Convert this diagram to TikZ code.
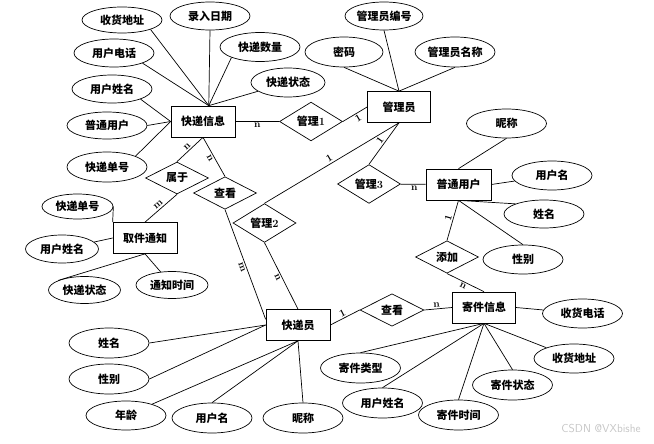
\documentclass[tikz,border=0pt]{standalone}
\usepackage{fontspec}
\newfontfamily\cjk{Noto Sans CJK SC}
\usetikzlibrary{shapes.geometric}

\tikzset{
  attr/.style={ellipse, draw, minimum width=80pt, minimum height=29pt, inner sep=0pt,
    font=\cjk\bfseries\fontsize{11}{13}\selectfont},
  ent/.style={rectangle, draw, minimum width=64pt, minimum height=31pt, inner sep=0pt,
    font=\cjk\bfseries\fontsize{11}{13}\selectfont},
  rel/.style={diamond, draw, minimum width=63pt, minimum height=30pt, inner sep=0pt,
    font=\cjk\bfseries\fontsize{11}{13}\selectfont},
  card/.style={font=\bfseries\fontsize{10}{10}\selectfont, inner sep=1.5pt},
}

\begin{document}
\begin{tikzpicture}[x=1pt, y=-1pt, line width=0.7pt]
  \useasboundingbox (0,0) rectangle (654,444);

  % kuaidi xinxi
  \node[ent] (kdxx) at (203,121.5) {快递信息};
  \node[attr, minimum height=26pt] (shdz) at (122,20) {收货地址};
  \node[attr, minimum height=28pt] (lrrq) at (210,16) {录入日期};
  \node[attr] (kdsl) at (260,47) {快递数量};
  \node[attr, minimum width=74pt] (kdzt) at (288,82.5) {快递状态};
  \node[attr, minimum height=28pt] (yhdh) at (114,53) {用户电话};
  \node[attr, minimum height=28pt] (yhxm) at (112,89) {用户姓名};
  \node[attr, minimum height=27pt] (ptyhA) at (107,125.5) {普通用户};
  \node[attr, minimum height=30pt] (kddh) at (107,167) {快递单号};
  \draw (shdz.south east) -- (kdxx.70);
  \draw (lrrq.south) -- (kdxx.70);
  \draw (kdsl.south west) -- (kdxx.70);
  \draw (kdzt) -- (kdxx.70);
  \draw (yhdh.south east) -- (kdxx.70);
  \draw (yhxm.south east) -- (kdxx.west);
  \draw (ptyhA.east) -- (kdxx.west);
  \draw (kddh.north east) -- (kdxx.west);

  % relations round kuaidi xinxi
  \node[rel] (gl1) at (311,121.5) {管理{\rmfamily 1}};
  \node[rel] (sy) at (177,178) {属于};
  \node[rel] (ck1) at (225,193) {查看};
  \draw (kdxx) -- node[card, below] {n} (gl1);
  \draw (kdxx.south) -- node[card, sloped, above, pos=.5] {n} (sy.north);
  \draw (kdxx.south) -- node[card, sloped, below, pos=.48] {n} (ck1.north);

  % qujian tongzhi
  \node[ent] (qjtz) at (145,238) {取件通知};
  \node[attr, minimum width=71pt, minimum height=25pt] (kddh2) at (77.5,206.5) {快递单号};
  \node[attr, minimum width=73pt, minimum height=28pt] (yhxm2) at (62,249) {用户姓名};
  \node[attr, minimum width=72pt, minimum height=27pt] (kdzt2) at (84.5,290) {快递状态};
  \node[attr, minimum width=72pt, minimum height=27pt] (tzsj) at (172,285) {通知时间};
  \draw (sy.south) -- node[card, sloped, above, pos=.5] {m} (qjtz.north);
  \draw (kddh2.east) -- (qjtz.north west);
  \draw (qjtz.west) -- (yhxm2);
  \draw (qjtz.south) -- (kdzt2.160);
  \draw (qjtz.south) -- (tzsj);

  % guanliyuan
  \node[ent, minimum width=63pt] (gly) at (399,107) {管理员};
  \node[attr, minimum width=78pt, minimum height=28pt] (glybh) at (384,16) {管理员编号};
  \node[attr, minimum width=78pt, minimum height=30pt] (mm) at (344,52) {密码};
  \node[attr, minimum height=30pt] (glymc) at (455,52) {管理员名称};
  \draw (glybh.south) -- (gly.north);
  \draw (mm.south) -- (gly.north);
  \draw (glymc.south) -- (gly.north);
  \draw (gl1.east) -- node[card, sloped, below, pos=.52] {1} (gly.west);

  \node[rel] (gl2) at (264.5,223) {管理{\rmfamily 2}};
  \node[rel] (gl3) at (369,184) {管理{\rmfamily 3}};
  \draw (gly.south) -- node[card, sloped, above, pos=.5] {1} (gl2.north);
  \draw (gly.south) -- node[card, sloped, above, pos=.5] {1} (gl3.north);

  % putong yonghu
  \node[ent, minimum width=65pt] (ptyh) at (458.5,184.5) {普通用户};
  \node[attr] (nc) at (506.5,123.5) {昵称};
  \node[attr] (yhm) at (552,175.5) {用户名};
  \node[attr, minimum height=28pt] (xm) at (544,214) {姓名};
  \node[attr] (xb) at (523,259.5) {性别};
  \node[rel] (tj) at (447,257) {添加};
  \draw (gl3) -- node[card, below, pos=.55] {n} (ptyh);
  \draw (nc.south) -- (ptyh.north);
  \draw (ptyh.east) -- (yhm);
  \draw (ptyh.south) -- (xm.north west);
  \draw (ptyh.south) -- (xb.north);
  \draw (ptyh.south) -- node[card, sloped, above, pos=.47] {1} (tj.north);

  % jijian xinxi
  \node[ent, minimum width=63pt] (jjxx) at (484,307.5) {寄件信息};
  \node[rel, minimum width=64pt] (ck2) at (392,310) {查看};
  \node[attr] (shdh) at (582.5,313.5) {收货电话};
  \node[attr] (shdz2) at (574,358.5) {收货地址};
  \node[attr, minimum height=30pt] (jjlx) at (360.5,368) {寄件类型};
  \node[attr, minimum height=30pt] (jjzt) at (512.5,385) {寄件状态};
  \node[attr, minimum height=30pt] (yhxm3) at (382.5,403) {用户姓名};
  \node[attr, minimum height=30pt] (jjsj) at (458.5,415) {寄件时间};
  \draw (tj.south) -- node[card, sloped, below, pos=.48] {n} (jjxx.north);
  \draw (ck2.east) -- node[card, sloped, above, pos=.45] {n} (jjxx.west);
  \draw (jjxx.east) -- (shdh);
  \draw (jjxx.south) -- (shdz2);
  \draw (jjxx.south) -- (jjlx.north);
  \draw (jjxx.south) -- (jjzt.north);
  \draw (jjxx.south) -- (yhxm3.north);
  \draw (jjxx.south) -- (jjsj.north);

  % kuaidiyuan
  \node[ent] (kdy) at (298,325) {快递员};
  \node[attr, minimum height=30pt] (xm2) at (109,343) {姓名};
  \node[attr, minimum height=30pt] (xb2) at (109,379) {性别};
  \node[attr] (nl) at (126,415.5) {年龄};
  \node[attr, minimum height=30pt] (yhm2) at (212,418) {用户名};
  \node[attr, minimum height=30pt] (nc2) at (303,418) {昵称};
  \draw (ck1.south) -- node[card, sloped, below, pos=.51] {m} (kdy.170);
  \draw (gl2.south) -- node[card, sloped, below, pos=.5] {n} (kdy.north);
  \draw (kdy.east) -- node[card, sloped, above, pos=.49] {1} (ck2.west);
  \draw (xm2.east) -- (kdy.west);
  \draw (xb2.east) -- (kdy.west);
  \draw (nl) -- (kdy.south);
  \draw (yhm2.north) -- (kdy.south);
  \draw (nc2.north) -- (kdy.south);

  \node[text=gray!45, font=\sffamily\fontsize{11.5}{12}\selectfont] (wm) at (601,429) {CSDN @VXbishe};
\end{tikzpicture}
\end{document}
